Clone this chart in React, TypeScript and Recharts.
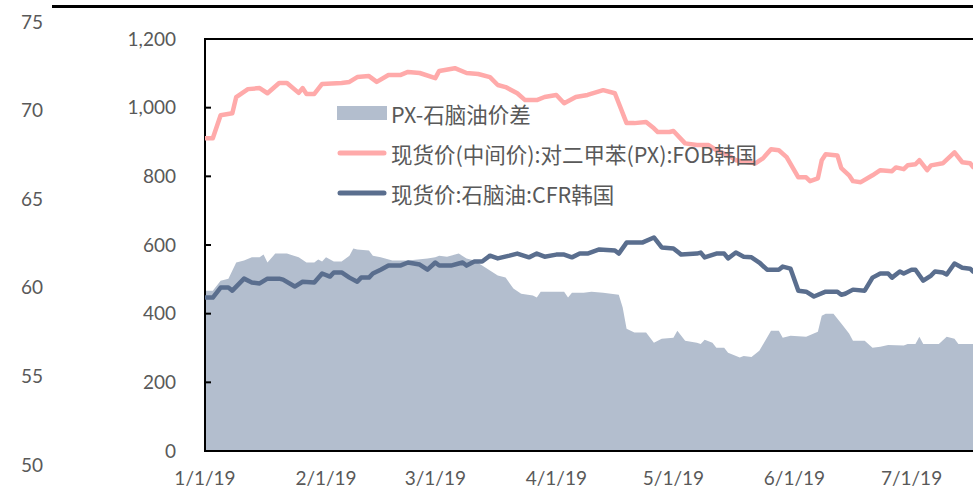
import React from 'react';
import { ComposedChart, Area, Line, XAxis, YAxis, ReferenceArea, Legend } from 'recharts';

// days counted from 1 Jan 2019
const MONTH_TICKS = [0, 31, 59, 90, 120, 151, 181];
const MONTH_LABELS = ['1/1/19', '2/1/19', '3/1/19', '4/1/19', '5/1/19', '6/1/19', '7/1/19'];
const LAST_DAY = 197;
const PRICE_TICKS = [0, 200, 400, 600, 800, 1000, 1200];
const OUTER_TICKS = [50, 55, 60, 65, 70, 75];

const SERIES_NAMES = ['PX-石脑油价差', '现货价(中间价):对二甲苯(PX):FOB韩国', '现货价:石脑油:CFR韩国'];

const pxDays = [0, 2, 4, 7, 8, 11, 14, 16, 19, 21, 24, 25, 26, 28, 30, 35, 37, 39, 42, 44, 47, 50, 52, 55, 59, 60, 64, 67, 70, 73, 75, 77, 80, 82, 85, 87, 90, 92, 95, 98, 102, 105, 108, 110, 113, 115, 116, 119, 120, 123, 126, 129, 131, 134, 136, 139, 141, 143, 145, 147, 149, 152, 154, 155, 157, 158, 159, 162, 163, 165, 166, 168, 171, 173, 176, 177, 179, 180, 182, 183, 185, 186, 189, 192, 194, 196, 197];
const pxValues = [911, 911, 978, 984, 1031, 1054, 1057, 1042, 1072, 1072, 1043, 1057, 1040, 1040, 1069, 1072, 1075, 1089, 1092, 1075, 1095, 1095, 1104, 1101, 1086, 1107, 1115, 1101, 1098, 1089, 1066, 1060, 1042, 1022, 1022, 1031, 1037, 1013, 1031, 1037, 1051, 1042, 955, 955, 958, 940, 929, 929, 932, 896, 891, 891, 876, 861, 847, 841, 838, 853, 879, 876, 856, 797, 797, 786, 794, 847, 864, 861, 824, 803, 786, 783, 803, 818, 815, 826, 821, 832, 835, 847, 818, 832, 838, 870, 841, 838, 824];

const naphthaDays = [0, 2, 4, 6, 7, 10, 12, 14, 16, 19, 20, 23, 25, 28, 30, 32, 33, 35, 37, 39, 40, 42, 43, 45, 47, 50, 52, 55, 57, 59, 60, 63, 65, 66, 67, 69, 71, 73, 75, 78, 80, 83, 85, 87, 90, 92, 94, 96, 98, 101, 105, 106, 108, 112, 115, 117, 120, 122, 126, 127, 128, 131, 133, 134, 136, 138, 140, 142, 144, 147, 148, 150, 152, 154, 156, 159, 162, 163, 164, 166, 169, 171, 173, 175, 176, 178, 179, 181, 182, 184, 186, 187, 189, 190, 192, 194, 196, 197];
const naphthaValues = [447, 447, 476, 476, 467, 502, 491, 488, 502, 502, 499, 479, 493, 491, 517, 508, 520, 520, 505, 493, 505, 505, 517, 528, 540, 540, 549, 543, 528, 549, 540, 540, 546, 549, 540, 552, 552, 569, 561, 569, 575, 564, 575, 566, 572, 572, 564, 575, 575, 587, 584, 575, 607, 607, 622, 593, 590, 572, 575, 578, 564, 575, 575, 561, 578, 566, 564, 549, 528, 528, 537, 531, 467, 464, 450, 464, 464, 455, 458, 470, 467, 505, 517, 517, 505, 523, 517, 528, 528, 496, 511, 523, 520, 514, 546, 534, 531, 520];

const spreadDays = [0, 2, 4, 6, 8, 10, 12, 14, 15, 16, 18, 21, 24, 26, 28, 29, 30, 31, 33, 35, 37, 38, 39, 42, 43, 45, 48, 52, 57, 59, 60, 62, 65, 67, 69, 71, 73, 75, 77, 79, 81, 84, 85, 86, 89, 92, 93, 94, 97, 99, 102, 104, 106, 107, 108, 110, 113, 115, 117, 120, 121, 123, 126, 127, 128, 130, 131, 133, 134, 137, 138, 140, 142, 145, 147, 148, 150, 154, 157, 158, 159, 161, 163, 165, 166, 169, 171, 173, 175, 179, 180, 182, 183, 184, 188, 190, 192, 193, 197];
const spreadValues = [467, 467, 496, 502, 549, 555, 564, 564, 572, 549, 575, 575, 564, 549, 549, 558, 552, 564, 552, 552, 569, 590, 587, 584, 569, 564, 555, 555, 561, 564, 569, 566, 575, 561, 555, 540, 526, 511, 505, 473, 458, 453, 447, 464, 464, 464, 447, 461, 461, 464, 461, 458, 455, 418, 356, 345, 345, 315, 327, 330, 350, 321, 315, 312, 324, 315, 301, 301, 286, 272, 277, 274, 292, 350, 350, 330, 336, 333, 347, 394, 400, 400, 371, 342, 321, 321, 301, 304, 309, 307, 312, 312, 333, 312, 312, 333, 327, 312, 312];

const COLORS = { spread: '#B3BECE', px: '#FFAAAA', naphtha: '#5A6E8E' };
const TEXT = '#595959';
const FONT = 'Lato, "Noto Sans", sans-serif';
const FONT_CJK = '"Noto Sans CJK SC", "Noto Sans", sans-serif';

// vertical layout: the outer 50-75 scale spans a taller band than the framed price plot
const CHART_H = 489;
const PLOT_TOP = 22;
const PLOT_BOTTOM = 465;
const FRAME_TOP = 39;
const FRAME_BOTTOM = 451;
const pxPerUnit = (FRAME_BOTTOM - FRAME_TOP) / 1200;
const PRICE_DOMAIN = [-(PLOT_BOTTOM - FRAME_BOTTOM) / pxPerUnit, 1200 + (FRAME_TOP - PLOT_TOP) / pxPerUnit];

// merge the three series on one day axis
const allDays = Array.from(new Set([...pxDays, ...naphthaDays, ...spreadDays])).sort((a, b) => a - b);
const rows = allDays.map((d) => {
    const pi = pxDays.indexOf(d);
    const ni = naphthaDays.indexOf(d);
    const si = spreadDays.indexOf(d);
    return {
        day: d,
        px: pi >= 0 ? pxValues[pi] : null,
        naphtha: ni >= 0 ? naphthaValues[ni] : null,
        spread: si >= 0 ? spreadValues[si] : null,
    };
});

const formatMonth = (v: number) => {
    const i = MONTH_TICKS.indexOf(v);
    return i >= 0 ? MONTH_LABELS[i] : '';
};

// the far-left scale is drawn at a fixed column whatever slot the axis gets
function OuterTick(props: any) {
    const { y, payload } = props;
    return (
        <text x={43} y={y} dy="0.35em" textAnchor="end" fill={TEXT} fontSize={19} fontFamily={FONT}>
            {payload.value}
        </text>
    );
}

function LegendBox() {
    return (
        <div style={{ fontFamily: FONT_CJK, fontSize: 21.5, color: TEXT }}>
            {SERIES_NAMES.map((name, i) => (
                <div key={name} style={{ display: 'flex', alignItems: 'center', height: 40, whiteSpace: 'nowrap' }}>
                    <svg width={54} height={16}>
                        {i === 0 ? (
                            <rect x={0} y={1} width={50} height={14} fill={COLORS.spread} />
                        ) : (
                            <line x1={3} y1={8} x2={47} y2={8} strokeWidth={5} strokeLinecap="round"
                                stroke={i === 1 ? COLORS.px : COLORS.naphtha} />
                        )}
                    </svg>
                    <span>{name}</span>
                </div>
            ))}
        </div>
    );
}

export default function App() {
    return (
        <div style={{ position: 'absolute', left: 0, top: 0, width: 973, height: 489, overflow: 'hidden', background: '#fff' }}>
            {/* clipped frame line above the chart */}
            <div style={{ position: 'absolute', left: 52, top: 5, width: 921, height: 3, background: '#000' }} />

            <div style={{ position: 'absolute', left: 0, top: 0 }}>
                <ComposedChart width={1000} height={CHART_H} data={rows}
                    margin={{ top: PLOT_TOP, right: 26, bottom: 0, left: 0 }}>
                    <Area
                        yAxisId="price"
                        dataKey="spread"
                        type="linear"
                        fill={COLORS.spread}
                        fillOpacity={1}
                        stroke="none"
                        baseValue={0}
                        connectNulls
                        isAnimationActive={false}
                    />
                    <Line yAxisId="price" dataKey="px" type="linear" stroke={COLORS.px} strokeWidth={4.5}
                        strokeLinejoin="round" dot={false} connectNulls isAnimationActive={false} />
                    <Line yAxisId="price" dataKey="naphtha" type="linear" stroke={COLORS.naphtha} strokeWidth={4.5}
                        strokeLinejoin="round" dot={false} connectNulls isAnimationActive={false} />
                    {/* series of the outer scale lies outside the cropped view: no values here */}
                    <Line yAxisId="outer" dataKey="outer" stroke="none" dot={false} legendType="none"
                        isAnimationActive={false} />
                    <ReferenceArea yAxisId="price" x1={0} x2={LAST_DAY} y1={0} y2={1200}
                        fill="none" stroke="#000" strokeWidth={2} ifOverflow="visible" />
                    <XAxis
                        dataKey="day"
                        type="number"
                        domain={[0, LAST_DAY]}
                        ticks={MONTH_TICKS}
                        tickFormatter={formatMonth}
                        height={CHART_H - PLOT_BOTTOM}
                        axisLine={false}
                        tickLine={false}
                        tickSize={0}
                        tickMargin={7}
                        tick={{ fill: TEXT, fontSize: 19, fontFamily: FONT }}
                    />
                    <YAxis
                        yAxisId="price"
                        domain={PRICE_DOMAIN}
                        allowDataOverflow
                        ticks={PRICE_TICKS}
                        tickFormatter={(v: number) => v.toLocaleString('en-US')}
                        width={204}
                        axisLine={false}
                        tickLine={{ stroke: '#000', strokeWidth: 2 }}
                        tickSize={-7}
                        tickMargin={35}
                        tick={{ fill: TEXT, fontSize: 19, fontFamily: FONT }}
                    />
                    <YAxis
                        yAxisId="outer"
                        domain={[50, 75]}
                        allowDataOverflow
                        ticks={OUTER_TICKS}
                        width={1}
                        axisLine={false}
                        tickLine={false}
                        tick={<OuterTick />}
                    />
                    <Legend
                        layout="vertical"
                        align="center"
                        verticalAlign="middle"
                        content={<LegendBox />}
                        wrapperStyle={{ left: 337, top: 93, width: 560, height: 120 }}
                    />
                </ComposedChart>
            </div>
        </div>
    );
}
